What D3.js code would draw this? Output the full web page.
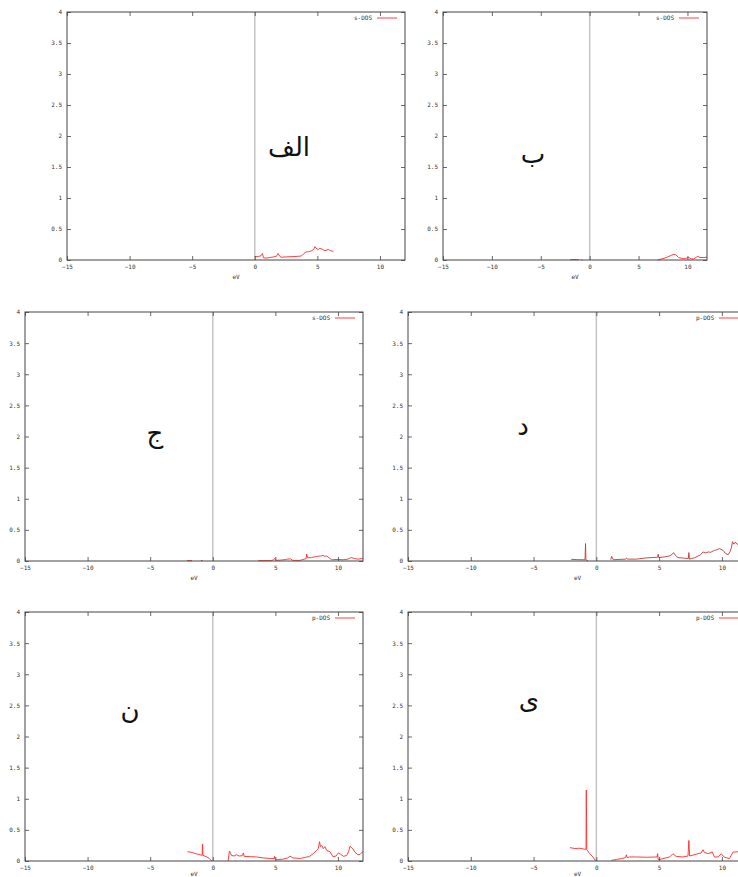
<!DOCTYPE html>
<html>
<head>
<meta charset="utf-8">
<script src="https://cdn.jsdelivr.net/npm/d3@7"></script>
<style>
  html, body { margin: 0; padding: 0; background: #fff; }
  svg { display: block; }
  .tick-label { font-family: "DejaVu Sans Mono", "Liberation Mono", monospace; font-size: 6px; fill: #333; }
  .letter { font-family: "DejaVu Sans", sans-serif; font-size: 26px; fill: #111; }
</style>
</head>
<body>
<svg id="chart" width="738" height="877"></svg>
<script>
// ---------- data ----------
const energyTicks = [-15, -10, -5, 0, 5, 10];
const dosTicks = [0, 0.5, 1, 1.5, 2, 2.5, 3, 3.5, 4];
const energyDomain = [-15, 12];
const dosDomain = [0, 4];
const panelLetters = ["الف", "ب", "ج", "د", "ن", "ی"];
const legendLabels = ["s-DOS", "s-DOS", "s-DOS", "p-DOS", "p-DOS", "p-DOS"];
const xAxisLabel = "eV";

const dosA = [[0,0.055],[0.3,0.055],[0.5,0.07],[0.61,0.105],[0.7,0.035],[0.9,0.03],[1.2,0.04],[1.5,0.05],[1.73,0.06],[1.86,0.105],[2.0,0.06],[2.1,0.045],[2.5,0.05],[3.06,0.055],[3.5,0.06],[3.73,0.065],[3.9,0.1],[4.1,0.13],[4.3,0.135],[4.55,0.15],[4.7,0.17],[4.8,0.215],[4.95,0.18],[5.07,0.17],[5.2,0.19],[5.33,0.18],[5.6,0.15],[5.87,0.17],[6.05,0.15],[6.27,0.14]];

const dosB = [[-2.0,0.006],[-1.1,0.006],null,[-0.85,0.006],[-0.75,0.006],null,[6.96,0],[7.3,0.015],[7.6,0.027],[8.0,0.05],[8.4,0.08],[8.6,0.09],[8.8,0.085],[9.1,0.04],[9.6,0.02],[9.9,0.03],[10.1,0.04],[10.4,0.02],[10.6,0.016],[10.9,0.04],[11.0,0.06],[11.3,0.04],[11.6,0.04],[12,0.045]];

const dosC = [[-2.07,0.006],[-1.65,0.006],null,[-0.95,0.006],[-0.8,0.006],null,[3.64,0.006],[4.7,0.006],[4.85,0.02],[4.97,0.04],[5.1,0.01],[5.4,0.015],[5.7,0.02],[5.9,0.028],[6.2,0.035],[6.4,0.01],[6.97,0.01],[7.3,0.03],[7.45,0.035],[7.5,0.11],[7.58,0.05],[7.9,0.055],[8.3,0.075],[8.6,0.08],[8.8,0.09],[8.95,0.075],[9.1,0.08],[9.3,0.05],[9.5,0.02],[10.0,0.025],[10.4,0.02],[10.8,0.03],[11.0,0.05],[11.1,0.055],[11.3,0.04],[11.6,0.03],[12,0.04]];

const dosD = [[-2.0,0.027],[-1.5,0.022],[-1.06,0.02],[-0.9,0.02],[-0.86,0.28],[-0.83,0.02],[-0.75,0.01],[-0.66,0.0],null,[1.15,0.02],[1.22,0.075],[1.35,0.02],[1.8,0.025],[2.35,0.03],[2.42,0.045],[2.5,0.03],[3.2,0.03],[4.0,0.05],[4.88,0.06],[4.93,0.11],[4.97,0.055],[5.4,0.065],[5.8,0.08],[6.0,0.1],[6.15,0.135],[6.3,0.09],[6.5,0.055],[7.0,0.045],[7.33,0.04],[7.37,0.135],[7.42,0.03],[7.8,0.05],[8.1,0.08],[8.3,0.1],[8.5,0.145],[8.7,0.13],[8.9,0.145],[9.1,0.14],[9.4,0.17],[9.6,0.18],[9.8,0.2],[10.1,0.17],[10.3,0.12],[10.5,0.1],[10.65,0.15],[10.74,0.2],[10.85,0.31],[10.95,0.27],[11.05,0.3],[11.3,0.26],[11.6,0.28],[12,0.25]];

const dosE = [[-2.02,0.15],[-1.6,0.135],[-1.41,0.12],[-1.0,0.1],[-0.85,0.09],[-0.82,0.27],[-0.78,0.09],[-0.5,0.068],[-0.3,0.045],[-0.08,0.0],null,[1.22,0],[1.33,0.16],[1.5,0.09],[1.7,0.08],[1.9,0.1],[2.1,0.08],[2.35,0.085],[2.45,0.13],[2.5,0.075],[3.0,0.07],[3.5,0.065],[4.0,0.05],[4.6,0.04],[4.9,0.038],[4.93,0.075],[4.97,0.03],[5.1,0.02],[5.6,0.03],[6.0,0.05],[6.17,0.08],[6.4,0.05],[7.0,0.04],[7.4,0.06],[7.7,0.07],[8.03,0.12],[8.3,0.17],[8.43,0.2],[8.53,0.31],[8.6,0.23],[8.7,0.25],[8.83,0.2],[8.96,0.23],[9.1,0.17],[9.36,0.15],[9.6,0.07],[9.85,0.08],[10.03,0.13],[10.2,0.11],[10.45,0.075],[10.7,0.09],[10.85,0.15],[10.96,0.236],[11.05,0.22],[11.17,0.2],[11.36,0.14],[11.6,0.1],[11.76,0.105],[12,0.155]];

const dosF = [[-2.1,0.215],[-1.72,0.2],[-1.33,0.205],[-0.93,0.19],[-0.82,0.19],[-0.8,1.14],[-0.78,0.66],[-0.76,0.18],[-0.53,0.12],[-0.27,0.065],[-0.05,0.0],null,[1.2,0.01],[1.6,0.025],[2.0,0.04],[2.33,0.054],[2.39,0.1],[2.45,0.055],[2.65,0.065],[3.2,0.065],[3.98,0.06],[4.83,0.065],[4.88,0.118],[4.93,0.02],[5.3,0.038],[5.84,0.065],[6.1,0.118],[6.35,0.075],[6.9,0.065],[7.3,0.08],[7.37,0.33],[7.43,0.08],[8.1,0.118],[8.35,0.13],[8.5,0.18],[8.6,0.14],[8.9,0.118],[9.23,0.145],[9.4,0.065],[9.7,0.065],[9.95,0.115],[10.2,0.06],[10.6,0.04],[10.9,0.145],[11.1,0.145],[11.3,0.15],[12,0.15]];

const panelData = [dosA, dosB, dosC, dosD, dosE, dosF];

// ---------- layout ----------
const layout = [
  { left: 67,  top: 12,  right: 405, bottom: 260, lx: 289, ly: 147 },
  { left: 443, top: 12,  right: 707, bottom: 260, lx: 533, ly: 154 },
  { left: 25,  top: 312, right: 363, bottom: 561, lx: 155, ly: 433 },
  { left: 408, top: 312, right: 747, bottom: 561, lx: 523, ly: 426 },
  { left: 25,  top: 612, right: 363, bottom: 861, lx: 130, ly: 710 },
  { left: 408, top: 612, right: 747, bottom: 861, lx: 529, ly: 700 }
];

const svg = d3.select("#chart");
const H = 877;

layout.forEach((p, i) => {
  const g = svg.append("g");
  const x = d3.scaleLinear().domain(energyDomain).range([p.left, p.right]);
  const y = d3.scaleLinear().domain(dosDomain).range([p.bottom, p.top]);
  const w = p.right - p.left, h = p.bottom - p.top;

  // Fermi level line
  g.append("line")
    .attr("x1", x(0)).attr("x2", x(0))
    .attr("y1", p.top).attr("y2", p.bottom)
    .attr("stroke", "#c4c4c4").attr("stroke-width", 1.5);

  // DOS curve
  const line = d3.line()
    .defined(d => d)
    .x(d => x(d[0]))
    .y(d => y(d[1]));
  g.append("path")
    .datum(panelData[i])
    .attr("d", line)
    .attr("fill", "none")
    .attr("stroke", i === 3 ? "#c23a36" : "#ff2a2a")
    .attr("stroke-width", 0.9)
    .attr("stroke-linejoin", "round");

  // axes (inner ticks on all sides)
  const tickLen = 4;
  const bottomAxis = d3.axisBottom(x).tickValues(energyTicks).tickSize(tickLen).tickFormat(d3.format("d"));
  const topAxis = d3.axisTop(x).tickValues(energyTicks).tickSize(tickLen).tickFormat("");
  const leftAxis = d3.axisLeft(y).tickValues(dosTicks).tickSize(tickLen).tickFormat(d => String(d));
  const rightAxis = d3.axisRight(y).tickValues(dosTicks).tickSize(tickLen).tickFormat("");

  const ab = g.append("g").attr("transform", `translate(0,${p.bottom})`).call(bottomAxis);
  ab.selectAll(".tick line").attr("y2", -tickLen);
  ab.selectAll(".tick text").attr("y", 5).attr("dy", "0.71em");
  const at = g.append("g").attr("transform", `translate(0,${p.top})`).call(topAxis);
  at.selectAll(".tick line").attr("y2", tickLen);
  const al = g.append("g").attr("transform", `translate(${p.left},0)`).call(leftAxis);
  al.selectAll(".tick line").attr("x2", tickLen);
  al.selectAll(".tick text").attr("x", -5);
  const ar = g.append("g").attr("transform", `translate(${p.right},0)`).call(rightAxis);
  ar.selectAll(".tick line").attr("x2", -tickLen);

  [ab, at, al, ar].forEach(a => {
    a.select(".domain").remove();
    a.selectAll(".tick line").attr("stroke", "#444").attr("stroke-width", 0.8);
    a.selectAll(".tick text").attr("class", "tick-label").attr("font-family", null).attr("font-size", null).attr("fill", null);
  });

  // frame
  g.append("rect")
    .attr("x", p.left).attr("y", p.top).attr("width", w).attr("height", h)
    .attr("fill", "none").attr("stroke", "#444").attr("stroke-width", 1);

  // x label (kept inside the picture for the bottom row)
  g.append("text")
    .attr("class", "tick-label")
    .attr("x", (p.left + p.right) / 2)
    .attr("y", Math.min(p.bottom + 19, H - 1))
    .attr("text-anchor", "middle")
    .text(xAxisLabel);

  // legend
  g.append("line")
    .attr("x1", p.right - 28).attr("x2", p.right - 8)
    .attr("y1", p.top + 6).attr("y2", p.top + 6)
    .attr("stroke", "#ff2a2a").attr("stroke-width", 0.9);
  g.append("text")
    .attr("class", "tick-label")
    .attr("x", p.right - 33).attr("y", p.top + 6)
    .attr("dy", "0.35em")
    .attr("text-anchor", "end")
    .text(legendLabels[i]);

  // panel letter
  g.append("text")
    .attr("class", "letter")
    .attr("x", p.lx).attr("y", p.ly)
    .attr("text-anchor", "middle")
    .attr("dominant-baseline", "central")
    .attr("direction", "rtl")
    .text(panelLetters[i]);
});
</script>
</body>
</html>
